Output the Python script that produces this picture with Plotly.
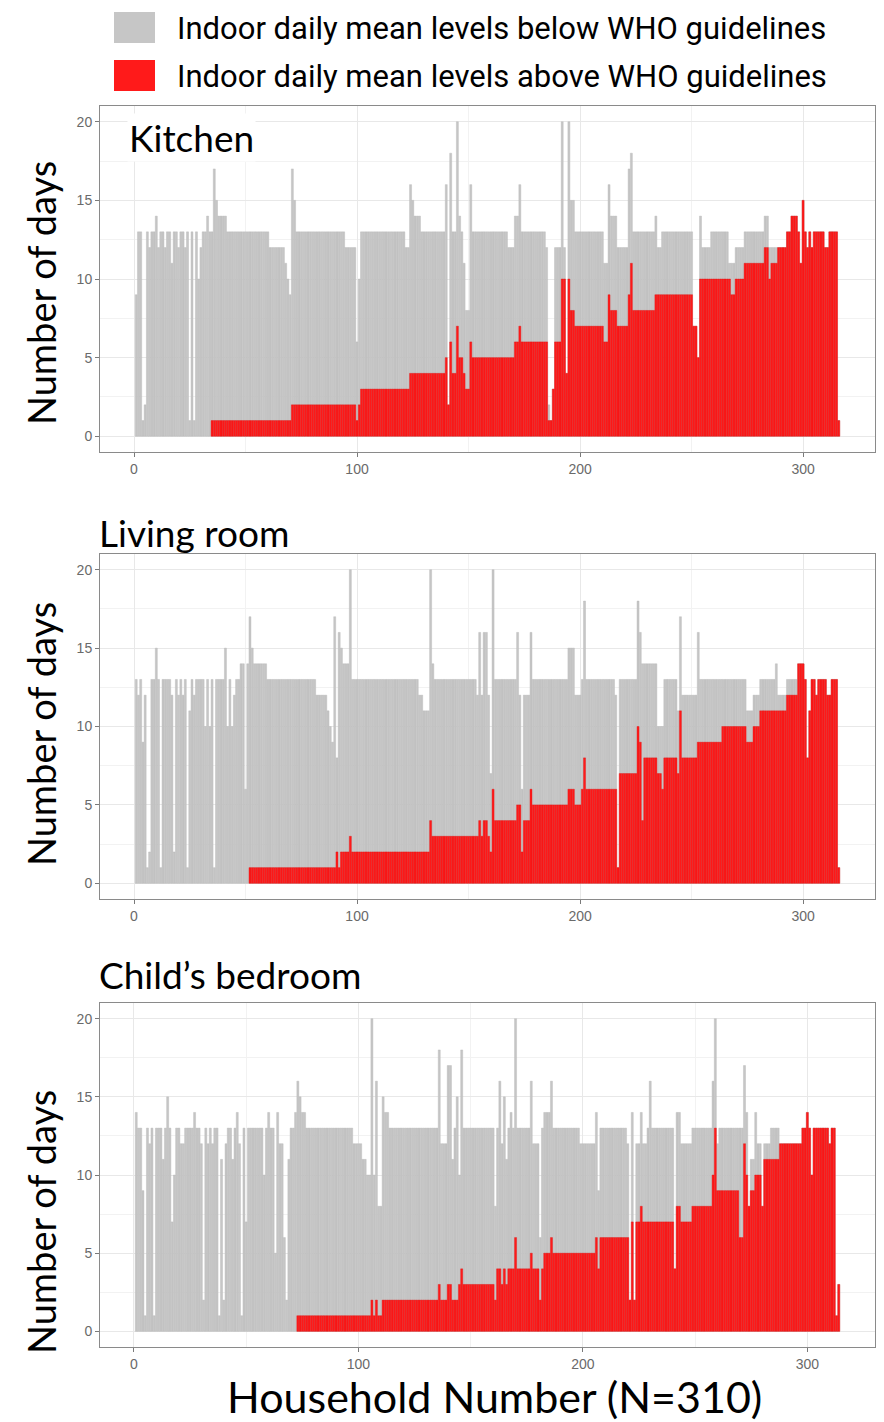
import plotly.graph_objects as go

W, H = 884, 1422

# Days measured per household (total) and days above the WHO guideline
kitchen_total = [
    9, 13, 13, 1, 2, 13, 12, 13, 13, 14,
    12, 13, 13, 12, 13, 13, 11, 13, 13, 12,
    13, 13, 12, 13, 1, 13, 1, 13, 10, 12,
    13, 13, 14, 13, 13, 17, 15, 14, 14, 14,
    14, 13, 13, 13, 13, 13, 13, 13, 13, 13,
    13, 13, 13, 13, 13, 13, 13, 13, 13, 13,
    12, 12, 12, 12, 12, 12, 12, 11, 10, 9,
    17, 15, 13, 13, 13, 13, 13, 13, 13, 13,
    13, 13, 13, 13, 13, 13, 13, 13, 13, 13,
    13, 13, 13, 13, 12, 12, 12, 12, 12, 6,
    10, 13, 13, 13, 13, 13, 13, 13, 13, 13,
    13, 13, 13, 13, 13, 13, 13, 13, 13, 13,
    13, 12, 12, 16, 15, 14, 14, 14, 13, 13,
    13, 13, 13, 13, 13, 13, 13, 13, 13, 16,
    2, 18, 13, 13, 20, 14, 13, 11, 8, 8,
    16, 13, 13, 13, 13, 13, 13, 13, 13, 13,
    13, 13, 13, 13, 13, 13, 13, 12, 12, 12,
    14, 14, 16, 13, 13, 13, 13, 13, 13, 13,
    13, 13, 13, 13, 12, 2, 1, 3, 12, 12,
    12, 20, 12, 4, 20, 15, 15, 13, 13, 13,
    13, 13, 13, 13, 13, 13, 13, 13, 13, 13,
    11, 11, 16, 14, 14, 14, 12, 12, 12, 12,
    12, 17, 18, 13, 13, 13, 13, 13, 13, 13,
    13, 13, 13, 14, 12, 12, 13, 13, 13, 13,
    13, 13, 13, 13, 13, 13, 13, 13, 13, 13,
    7, 7, 5, 14, 12, 12, 12, 12, 13, 13,
    13, 13, 13, 13, 13, 13, 11, 11, 11, 12,
    12, 12, 12, 13, 13, 13, 13, 13, 13, 13,
    13, 13, 14, 14, 12, 12, 12, 12, 12, 12,
    12, 12, 13, 13, 14, 14, 14, 13, 11, 15,
    13, 12, 13, 12, 13, 13, 13, 13, 13, 12,
    12, 13, 13, 13, 13, 1,
]
kitchen_above = [
    0, 0, 0, 0, 0, 0, 0, 0, 0, 0,
    0, 0, 0, 0, 0, 0, 0, 0, 0, 0,
    0, 0, 0, 0, 0, 0, 0, 0, 0, 0,
    0, 0, 0, 0, 1, 1, 1, 1, 1, 1,
    1, 1, 1, 1, 1, 1, 1, 1, 1, 1,
    1, 1, 1, 1, 1, 1, 1, 1, 1, 1,
    1, 1, 1, 1, 1, 1, 1, 1, 1, 1,
    2, 2, 2, 2, 2, 2, 2, 2, 2, 2,
    2, 2, 2, 2, 2, 2, 2, 2, 2, 2,
    2, 2, 2, 2, 2, 2, 2, 2, 2, 1,
    2, 3, 3, 3, 3, 3, 3, 3, 3, 3,
    3, 3, 3, 3, 3, 3, 3, 3, 3, 3,
    3, 3, 3, 4, 4, 4, 4, 4, 4, 4,
    4, 4, 4, 4, 4, 4, 4, 4, 4, 5,
    2, 6, 4, 4, 7, 5, 5, 4, 3, 3,
    6, 5, 5, 5, 5, 5, 5, 5, 5, 5,
    5, 5, 5, 5, 5, 5, 5, 5, 5, 5,
    6, 6, 7, 6, 6, 6, 6, 6, 6, 6,
    6, 6, 6, 6, 6, 1, 1, 3, 6, 6,
    6, 10, 10, 4, 10, 8, 8, 7, 7, 7,
    7, 7, 7, 7, 7, 7, 7, 7, 7, 7,
    6, 6, 9, 8, 8, 8, 7, 7, 7, 7,
    7, 9, 11, 8, 8, 8, 8, 8, 8, 8,
    8, 8, 8, 9, 9, 9, 9, 9, 9, 9,
    9, 9, 9, 9, 9, 9, 9, 9, 9, 9,
    7, 7, 5, 10, 10, 10, 10, 10, 10, 10,
    10, 10, 10, 10, 10, 10, 10, 9, 9, 10,
    10, 10, 10, 11, 11, 11, 11, 11, 11, 11,
    11, 11, 12, 12, 10, 11, 11, 11, 12, 12,
    12, 12, 13, 13, 14, 14, 14, 13, 11, 15,
    13, 12, 13, 12, 13, 13, 13, 13, 13, 12,
    12, 13, 13, 13, 13, 1,
]

living_total = [
    13, 12, 13, 9, 12, 1, 2, 13, 13, 15,
    13, 1, 13, 13, 13, 13, 12, 2, 13, 12,
    13, 12, 13, 1, 11, 13, 12, 13, 13, 13,
    13, 10, 13, 10, 13, 1, 13, 13, 13, 13,
    15, 10, 13, 10, 12, 13, 13, 14, 14, 6,
    14, 17, 15, 14, 14, 14, 14, 14, 14, 13,
    13, 13, 13, 13, 13, 13, 13, 13, 13, 13,
    13, 13, 13, 13, 13, 13, 13, 13, 13, 13,
    13, 12, 12, 12, 12, 12, 11, 10, 9, 17,
    8, 16, 15, 14, 14, 14, 20, 13, 13, 13,
    13, 13, 13, 13, 13, 13, 13, 13, 13, 13,
    13, 13, 13, 13, 13, 13, 13, 13, 13, 13,
    13, 13, 13, 13, 13, 13, 13, 12, 12, 11,
    11, 11, 20, 14, 13, 13, 13, 13, 13, 13,
    13, 13, 13, 13, 13, 13, 13, 13, 13, 13,
    13, 13, 13, 12, 16, 12, 16, 16, 12, 7,
    20, 13, 13, 13, 13, 13, 13, 13, 13, 13,
    13, 16, 12, 6, 12, 12, 12, 16, 13, 13,
    13, 13, 13, 13, 13, 13, 13, 13, 13, 13,
    13, 13, 13, 13, 15, 15, 15, 12, 12, 12,
    13, 18, 13, 13, 13, 13, 13, 13, 13, 13,
    13, 13, 13, 13, 13, 12, 1, 13, 13, 13,
    13, 13, 13, 13, 13, 18, 16, 14, 14, 14,
    14, 14, 14, 14, 10, 10, 10, 13, 13, 13,
    13, 13, 13, 11, 17, 12, 12, 12, 12, 12,
    12, 12, 16, 13, 13, 13, 13, 13, 13, 13,
    13, 13, 13, 13, 13, 13, 13, 13, 13, 13,
    13, 13, 13, 13, 11, 11, 11, 12, 12, 12,
    13, 13, 13, 13, 13, 13, 13, 14, 12, 12,
    12, 12, 13, 13, 13, 13, 13, 14, 14, 14,
    13, 8, 11, 13, 13, 12, 13, 13, 13, 13,
    12, 12, 13, 13, 13, 1,
]
living_above = [
    0, 0, 0, 0, 0, 0, 0, 0, 0, 0,
    0, 0, 0, 0, 0, 0, 0, 0, 0, 0,
    0, 0, 0, 0, 0, 0, 0, 0, 0, 0,
    0, 0, 0, 0, 0, 0, 0, 0, 0, 0,
    0, 0, 0, 0, 0, 0, 0, 0, 0, 0,
    0, 1, 1, 1, 1, 1, 1, 1, 1, 1,
    1, 1, 1, 1, 1, 1, 1, 1, 1, 1,
    1, 1, 1, 1, 1, 1, 1, 1, 1, 1,
    1, 1, 1, 1, 1, 1, 1, 1, 1, 1,
    2, 1, 2, 2, 2, 2, 3, 2, 2, 2,
    2, 2, 2, 2, 2, 2, 2, 2, 2, 2,
    2, 2, 2, 2, 2, 2, 2, 2, 2, 2,
    2, 2, 2, 2, 2, 2, 2, 2, 2, 2,
    2, 2, 4, 3, 3, 3, 3, 3, 3, 3,
    3, 3, 3, 3, 3, 3, 3, 3, 3, 3,
    3, 3, 3, 3, 4, 3, 4, 4, 3, 2,
    6, 4, 4, 4, 4, 4, 4, 4, 4, 4,
    4, 5, 5, 2, 4, 4, 4, 6, 5, 5,
    5, 5, 5, 5, 5, 5, 5, 5, 5, 5,
    5, 5, 5, 5, 6, 6, 6, 5, 5, 5,
    6, 8, 6, 6, 6, 6, 6, 6, 6, 6,
    6, 6, 6, 6, 6, 6, 1, 7, 7, 7,
    7, 7, 7, 7, 7, 10, 9, 4, 8, 8,
    8, 8, 8, 8, 7, 7, 6, 8, 8, 8,
    8, 8, 8, 7, 11, 8, 8, 8, 8, 8,
    8, 8, 9, 9, 9, 9, 9, 9, 9, 9,
    9, 9, 9, 10, 10, 10, 10, 10, 10, 10,
    10, 10, 10, 10, 9, 9, 9, 10, 10, 10,
    11, 11, 11, 11, 11, 11, 11, 11, 11, 11,
    11, 11, 12, 12, 12, 12, 12, 14, 14, 14,
    13, 8, 11, 13, 13, 12, 13, 13, 13, 13,
    12, 12, 13, 13, 13, 1,
]

bedroom_total = [
    14, 13, 13, 9, 1, 13, 12, 13, 1, 13,
    13, 13, 11, 13, 15, 13, 7, 10, 13, 13,
    12, 12, 13, 13, 13, 13, 14, 13, 13, 12,
    2, 13, 12, 13, 12, 13, 13, 1, 11, 2,
    12, 13, 13, 11, 13, 14, 12, 1, 13, 7,
    13, 13, 13, 13, 13, 13, 13, 10, 13, 14,
    13, 13, 5, 14, 12, 12, 6, 2, 11, 13,
    13, 14, 16, 15, 14, 14, 13, 13, 13, 13,
    13, 13, 13, 13, 13, 13, 13, 13, 13, 13,
    13, 13, 13, 13, 13, 13, 13, 12, 12, 12,
    12, 11, 11, 10, 10, 20, 10, 16, 8, 8,
    15, 14, 14, 13, 13, 13, 13, 13, 13, 13,
    13, 13, 13, 13, 13, 13, 13, 13, 13, 13,
    13, 13, 13, 13, 13, 18, 12, 12, 12, 17,
    17, 11, 13, 15, 10, 18, 13, 13, 13, 13,
    13, 13, 13, 13, 13, 13, 13, 13, 13, 13,
    8, 13, 16, 12, 15, 11, 13, 14, 13, 20,
    13, 13, 13, 13, 13, 13, 16, 12, 12, 12,
    6, 13, 14, 14, 14, 16, 13, 13, 13, 13,
    13, 13, 13, 13, 13, 13, 13, 13, 12, 12,
    12, 12, 12, 12, 12, 14, 9, 13, 13, 13,
    13, 13, 13, 13, 13, 13, 13, 13, 13, 12,
    2, 14, 2, 12, 12, 14, 12, 12, 13, 16,
    13, 13, 13, 13, 13, 13, 13, 13, 13, 13,
    4, 14, 14, 12, 12, 12, 12, 12, 13, 13,
    13, 13, 13, 13, 13, 13, 13, 16, 20, 12,
    13, 13, 13, 13, 13, 13, 13, 13, 13, 13,
    13, 17, 14, 8, 11, 11, 14, 12, 12, 8,
    12, 12, 12, 13, 13, 13, 13, 12, 12, 12,
    12, 12, 12, 12, 12, 12, 12, 13, 13, 14,
    13, 10, 13, 13, 13, 13, 13, 13, 13, 12,
    13, 13, 1, 3,
]
bedroom_above = [
    0, 0, 0, 0, 0, 0, 0, 0, 0, 0,
    0, 0, 0, 0, 0, 0, 0, 0, 0, 0,
    0, 0, 0, 0, 0, 0, 0, 0, 0, 0,
    0, 0, 0, 0, 0, 0, 0, 0, 0, 0,
    0, 0, 0, 0, 0, 0, 0, 0, 0, 0,
    0, 0, 0, 0, 0, 0, 0, 0, 0, 0,
    0, 0, 0, 0, 0, 0, 0, 0, 0, 0,
    0, 0, 1, 1, 1, 1, 1, 1, 1, 1,
    1, 1, 1, 1, 1, 1, 1, 1, 1, 1,
    1, 1, 1, 1, 1, 1, 1, 1, 1, 1,
    1, 1, 1, 1, 1, 2, 1, 2, 1, 1,
    2, 2, 2, 2, 2, 2, 2, 2, 2, 2,
    2, 2, 2, 2, 2, 2, 2, 2, 2, 2,
    2, 2, 2, 2, 2, 3, 2, 2, 2, 3,
    3, 2, 2, 2, 3, 4, 3, 3, 3, 3,
    3, 3, 3, 3, 3, 3, 3, 3, 3, 3,
    2, 4, 4, 3, 4, 3, 4, 4, 4, 6,
    4, 4, 4, 4, 4, 4, 5, 4, 4, 4,
    2, 4, 5, 5, 5, 6, 5, 5, 5, 5,
    5, 5, 5, 5, 5, 5, 5, 5, 5, 5,
    5, 5, 5, 5, 5, 6, 4, 6, 6, 6,
    6, 6, 6, 6, 6, 6, 6, 6, 6, 6,
    2, 7, 2, 7, 7, 8, 7, 7, 7, 7,
    7, 7, 7, 7, 7, 7, 7, 7, 7, 7,
    4, 8, 8, 7, 7, 7, 7, 7, 8, 8,
    8, 8, 8, 8, 8, 8, 8, 10, 13, 9,
    9, 9, 9, 9, 9, 9, 9, 9, 9, 6,
    6, 12, 10, 8, 9, 9, 10, 10, 10, 8,
    11, 11, 11, 11, 11, 11, 11, 12, 12, 12,
    12, 12, 12, 12, 12, 12, 12, 13, 13, 14,
    13, 10, 13, 13, 13, 13, 13, 13, 13, 12,
    13, 13, 1, 3,
]

room_names = ["Kitchen", "Living room", "Child\u2019s bedroom"]
legend_labels = [
    "Indoor daily mean levels below WHO guidelines",
    "Indoor daily mean levels above WHO guidelines",
]
x_title = "Household Number (N=310)"
y_title = "Number of days"
x_ticks = [0, 100, 200, 300]
y_ticks = [0, 5, 10, 15, 20]

GREY = "#c6c6c6"
GREY_EDGE = "#b6b6b6"
RED = "#ff1a1a"
RED_EDGE = "#e01212"
TITLE_FONT = "Lato, 'Open Sans', sans-serif"
TICK_FONT = "'Liberation Sans', Arial, sans-serif"


def fx(p):
    return p / W


def fy(p):
    return 1 - p / H


def edge_widths(values):
    # no outline on empty bars, so nothing is drawn at zero
    return [0.4 if v > 0 else 0 for v in values]


# panel boxes in pixels: (top, bottom); all share left/right edges
panels = [
    (kitchen_total, kitchen_above, 106, 452),
    (living_total, living_above, 554, 899),
    (bedroom_total, bedroom_above, 1003, 1347),
]
LEFT, RIGHT = 100, 875

fig = go.Figure()
layout = {}
for i, (total, above, top, bottom) in enumerate(panels, start=1):
    n = len(total)
    hh = list(range(1, n + 1))
    xa = "x" if i == 1 else f"x{i}"
    ya = "y" if i == 1 else f"y{i}"
    fig.add_trace(go.Bar(x=hh, y=total, width=0.9,
                         marker=dict(color=GREY, line=dict(width=edge_widths(total), color=GREY_EDGE)),
                         xaxis=xa, yaxis=ya, name=legend_labels[0], showlegend=False))
    fig.add_trace(go.Bar(x=hh, y=above, width=0.9,
                         marker=dict(color=RED, line=dict(width=edge_widths(above), color=RED_EDGE)),
                         xaxis=xa, yaxis=ya, name=legend_labels[1], showlegend=False))
    span = n - 0.1
    pad = 0.05 * span
    common = dict(
        showgrid=True, gridcolor="#e8e8e8", gridwidth=1,
        zeroline=False, showline=True, linecolor="#8a8a8a", linewidth=1, mirror=True,
        ticks="outside", ticklen=4, tickcolor="#7a7a7a", tickwidth=1,
        tickfont=dict(family=TICK_FONT, size=14, color="#6a6a6a"),
    )
    layout["xaxis" if i == 1 else f"xaxis{i}"] = dict(
        common, domain=[fx(LEFT), fx(RIGHT)], anchor=ya,
        range=[0.55 - pad, n + 0.45 + pad], tickvals=x_ticks,
        minor=dict(dtick=50, tick0=0, showgrid=True, gridcolor="#f2f2f2", gridwidth=1, ticks=""),
    )
    layout["yaxis" if i == 1 else f"yaxis{i}"] = dict(
        common, domain=[fy(bottom), fy(top)], anchor=xa,
        range=[-1, 21], tickvals=y_ticks,
        minor=dict(dtick=2.5, tick0=0, showgrid=True, gridcolor="#f2f2f2", gridwidth=1, ticks=""),
    )

annotations = [
    dict(text=room_names[0], x=fx(127), y=fy(137), xanchor="left", yanchor="middle",
         font=dict(family=TITLE_FONT, size=37, color="black"), bgcolor="white", borderpad=1),
    dict(text=room_names[1], x=fx(97), y=fy(532), xanchor="left", yanchor="middle",
         font=dict(family=TITLE_FONT, size=37, color="black")),
    dict(text=room_names[2], x=fx(97), y=fy(975), xanchor="left", yanchor="middle",
         font=dict(family=TITLE_FONT, size=37, color="black")),
    dict(text=x_title, x=fx(494), y=fy(1424), xanchor="center", yanchor="bottom",
         font=dict(family=TITLE_FONT, size=43, color="black")),
]
for yc in (293, 734, 1222):
    annotations.append(dict(text=y_title, x=fx(41), y=fy(yc), xanchor="center", yanchor="middle",
                            textangle=-90, font=dict(family=TITLE_FONT, size=38, color="black")))
for label, yc in zip(legend_labels, (28, 76)):
    annotations.append(dict(text=label, x=fx(175), y=fy(yc), xanchor="left", yanchor="middle",
                            font=dict(family="Roboto, sans-serif", size=31, color="black")))
for a in annotations:
    a.update(xref="paper", yref="paper", showarrow=False)

shapes = [
    dict(type="rect", xref="paper", yref="paper", x0=fx(114), x1=fx(155), y0=fy(43), y1=fy(12),
         fillcolor=GREY, line=dict(width=0)),
    dict(type="rect", xref="paper", yref="paper", x0=fx(114), x1=fx(155), y0=fy(91), y1=fy(60),
         fillcolor=RED, line=dict(width=0)),
]

fig.update_layout(
    width=W, height=H, margin=dict(l=0, r=0, t=0, b=0),
    paper_bgcolor="white", plot_bgcolor="white",
    barmode="overlay", showlegend=False,
    annotations=annotations, shapes=shapes,
    **layout,
)

fig.write_html("out.html")
